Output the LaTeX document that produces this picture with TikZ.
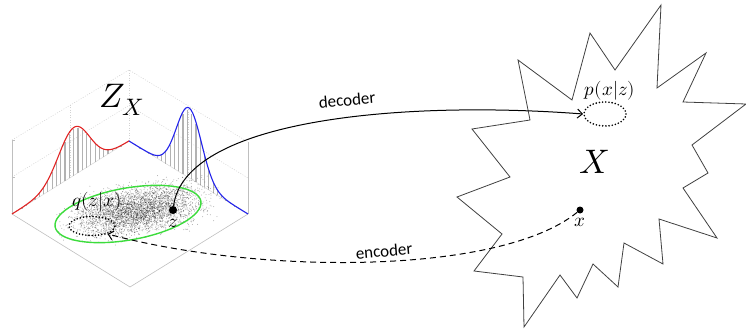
\documentclass[tikz,border=0pt]{standalone}
\usepackage{fontspec}
\usepackage{unicode-math}
\newfontfamily\carl{Carlito}
\usetikzlibrary{shapes.geometric,arrows.meta}
\definecolor{zgreen}{RGB}{60,220,60}
\definecolor{redc}{RGB}{225,35,35}
\definecolor{bluec}{RGB}{35,35,235}
\tikzset{
 boxline/.style={gray!50, line width=0.6pt},
 gridline/.style={gray!35, dash pattern=on 1pt off 1.5pt, line width=0.5pt},
 histbar/.style={gray!60, line width=1.2pt},
 redcurve/.style={redc, line width=1.1pt},
 bluecurve/.style={bluec, line width=1.1pt},
 scatterdot/.style={black, opacity=0.33},
 greenell/.style={zgreen, line width=1.4pt},
 distell/.style={draw, ellipse, line width=1.8pt, line cap=round, dash pattern=on 0pt off 3.2pt, inner sep=0pt},
 latentdot/.style={circle, fill=black, inner sep=0pt},
 starline/.style={draw=black!75, line width=0.8pt, line join=miter},
 arrowline/.style={line width=1pt, -{Straight Barb[length=5pt,width=9pt]}},
 lbl/.style={font=\carl\fontsize{17}{19}\selectfont, inner sep=0pt},
 bigmath/.style={font=\fontsize{34}{40}\selectfont, inner sep=0pt},
 midmath/.style={font=\fontsize{19}{22}\selectfont, inner sep=0pt},
 smallmath/.style={font=\fontsize{19}{22}\selectfont, inner sep=0pt},
}
\begin{document}
\begin{tikzpicture}[x=1pt,y=-1pt]
\useasboundingbox (0,0) rectangle (746,329);
% ---------- star shaped data space ----------
\draw[starline] (518,60) -- (530,120) -- (472,129) -- (510,177) -- (457,197) -- (502,234)
 -- (474,271) -- (523,277) -- (524,327) -- (560,275) -- (577,298) -- (593,264)
 -- (618,287) -- (624,243) -- (663,264) -- (659,219) -- (717,238) -- (683,188)
 -- (708,173) -- (692,145) -- (746,104) -- (683,102) -- (706,53) -- (657,88)
 -- (661,5) -- (615,70) -- (590,33) -- (572,100) -- cycle;
% ---------- 3D box of latent plot ----------
\draw[gridline] (12,140) -- (129,70) -- (248,142);
\draw[gridline] (129,70) -- (129,141);
\draw[gridline] (12,177) -- (129,105.5) -- (248,178);
\draw[gridline] (70.5,178) -- (70.5,105);
\draw[gridline] (188.5,177.5) -- (188.5,106);
\draw[boxline] (12,140) -- (12,214);
\draw[boxline] (12,140) -- (15,140) (12,177) -- (15,177);
\draw[boxline] (248,142) -- (248,214);
\draw[boxline] (12,214) -- (130,287) -- (248,214);
\draw[gray!30, line width=0.5pt] (12,214) -- (129,141) -- (248,214);
% histogram bars
\foreach \xx in {22,26.3,...,124}{
  \pgfmathsetmacro\yb{214-(\xx-12)*0.6239}
  \pgfmathsetmacro\hh{0.96*48*exp(-((\xx-74)^2)/480.5)}
  \draw[histbar] (\xx,\yb) -- (\xx,\yb-\hh);
}
\foreach \xx in {140,144.3,...,240}{
  \pgfmathsetmacro\yb{141+(\xx-129)*0.6134}
  \pgfmathsetmacro\hh{0.96*70*exp(-((\xx-189)^2)/312.5)}
  \draw[histbar] (\xx,\yb) -- (\xx,\yb-\hh);
}
% marginal curves
\draw[redcurve] plot[domain=12:129, samples=70, smooth] (\x,{214-(\x-12)*0.6239-48*exp(-((\x-74)^2)/480.5)});
\draw[bluecurve] plot[domain=129:248, samples=70, smooth] (\x,{141+(\x-129)*0.6134-70*exp(-((\x-189)^2)/312.5)});
% scatter cloud
\pgfmathsetseed{42}
\foreach \i in {1,...,3800}{
  \pgfmathsetmacro\uu{rand+rand+rand}
  \pgfmathsetmacro\vv{rand+rand+rand}
  \pgfmathsetmacro\px{138+30*\uu*0.985+11*\vv*0.174}
  \pgfmathsetmacro\py{210-30*\uu*0.174+11*\vv*0.985}
  \fill[scatterdot] (\px,\py) circle (0.5);
}
\draw[greenell, rotate around={10:(128,214)}] (128,214) ellipse (74 and 26);
% ---------- nodes ----------
\node[distell, minimum width=46pt, minimum height=19pt] (q) at (92,226) {};
\node[midmath] (qlabel) at (97,202) {$q(z|x)$};
\node[latentdot, minimum size=8pt] (z) at (173,210) {};
\node[smallmath] (zlabel) at (173,223) {$z$};
\node[bigmath] (zspace) at (122,100) {$Z_X$};
\node[distell, minimum width=42pt, minimum height=24pt] (p) at (605,114) {};
\node[midmath] (plabel) at (610,91) {$p(x|z)$};
\node[bigmath] (xspace) at (594,162) {$X$};
\node[latentdot, minimum size=7pt] (x) at (580,210) {};
\node[smallmath] (xlabel) at (580,222) {$x$};
% ---------- connectors ----------
\draw[arrowline] (z) .. controls (185,120) and (400,100) .. (p.west);
\draw[arrowline, dash pattern=on 6pt off 4pt] (x) .. controls (500,275) and (260,275) .. (q.-27);
\node[lbl, rotate=5] (declabel) at (347,100) {decoder};
\node[lbl, rotate=5] (enclabel) at (384,251) {encoder};
\end{tikzpicture}
\end{document}
